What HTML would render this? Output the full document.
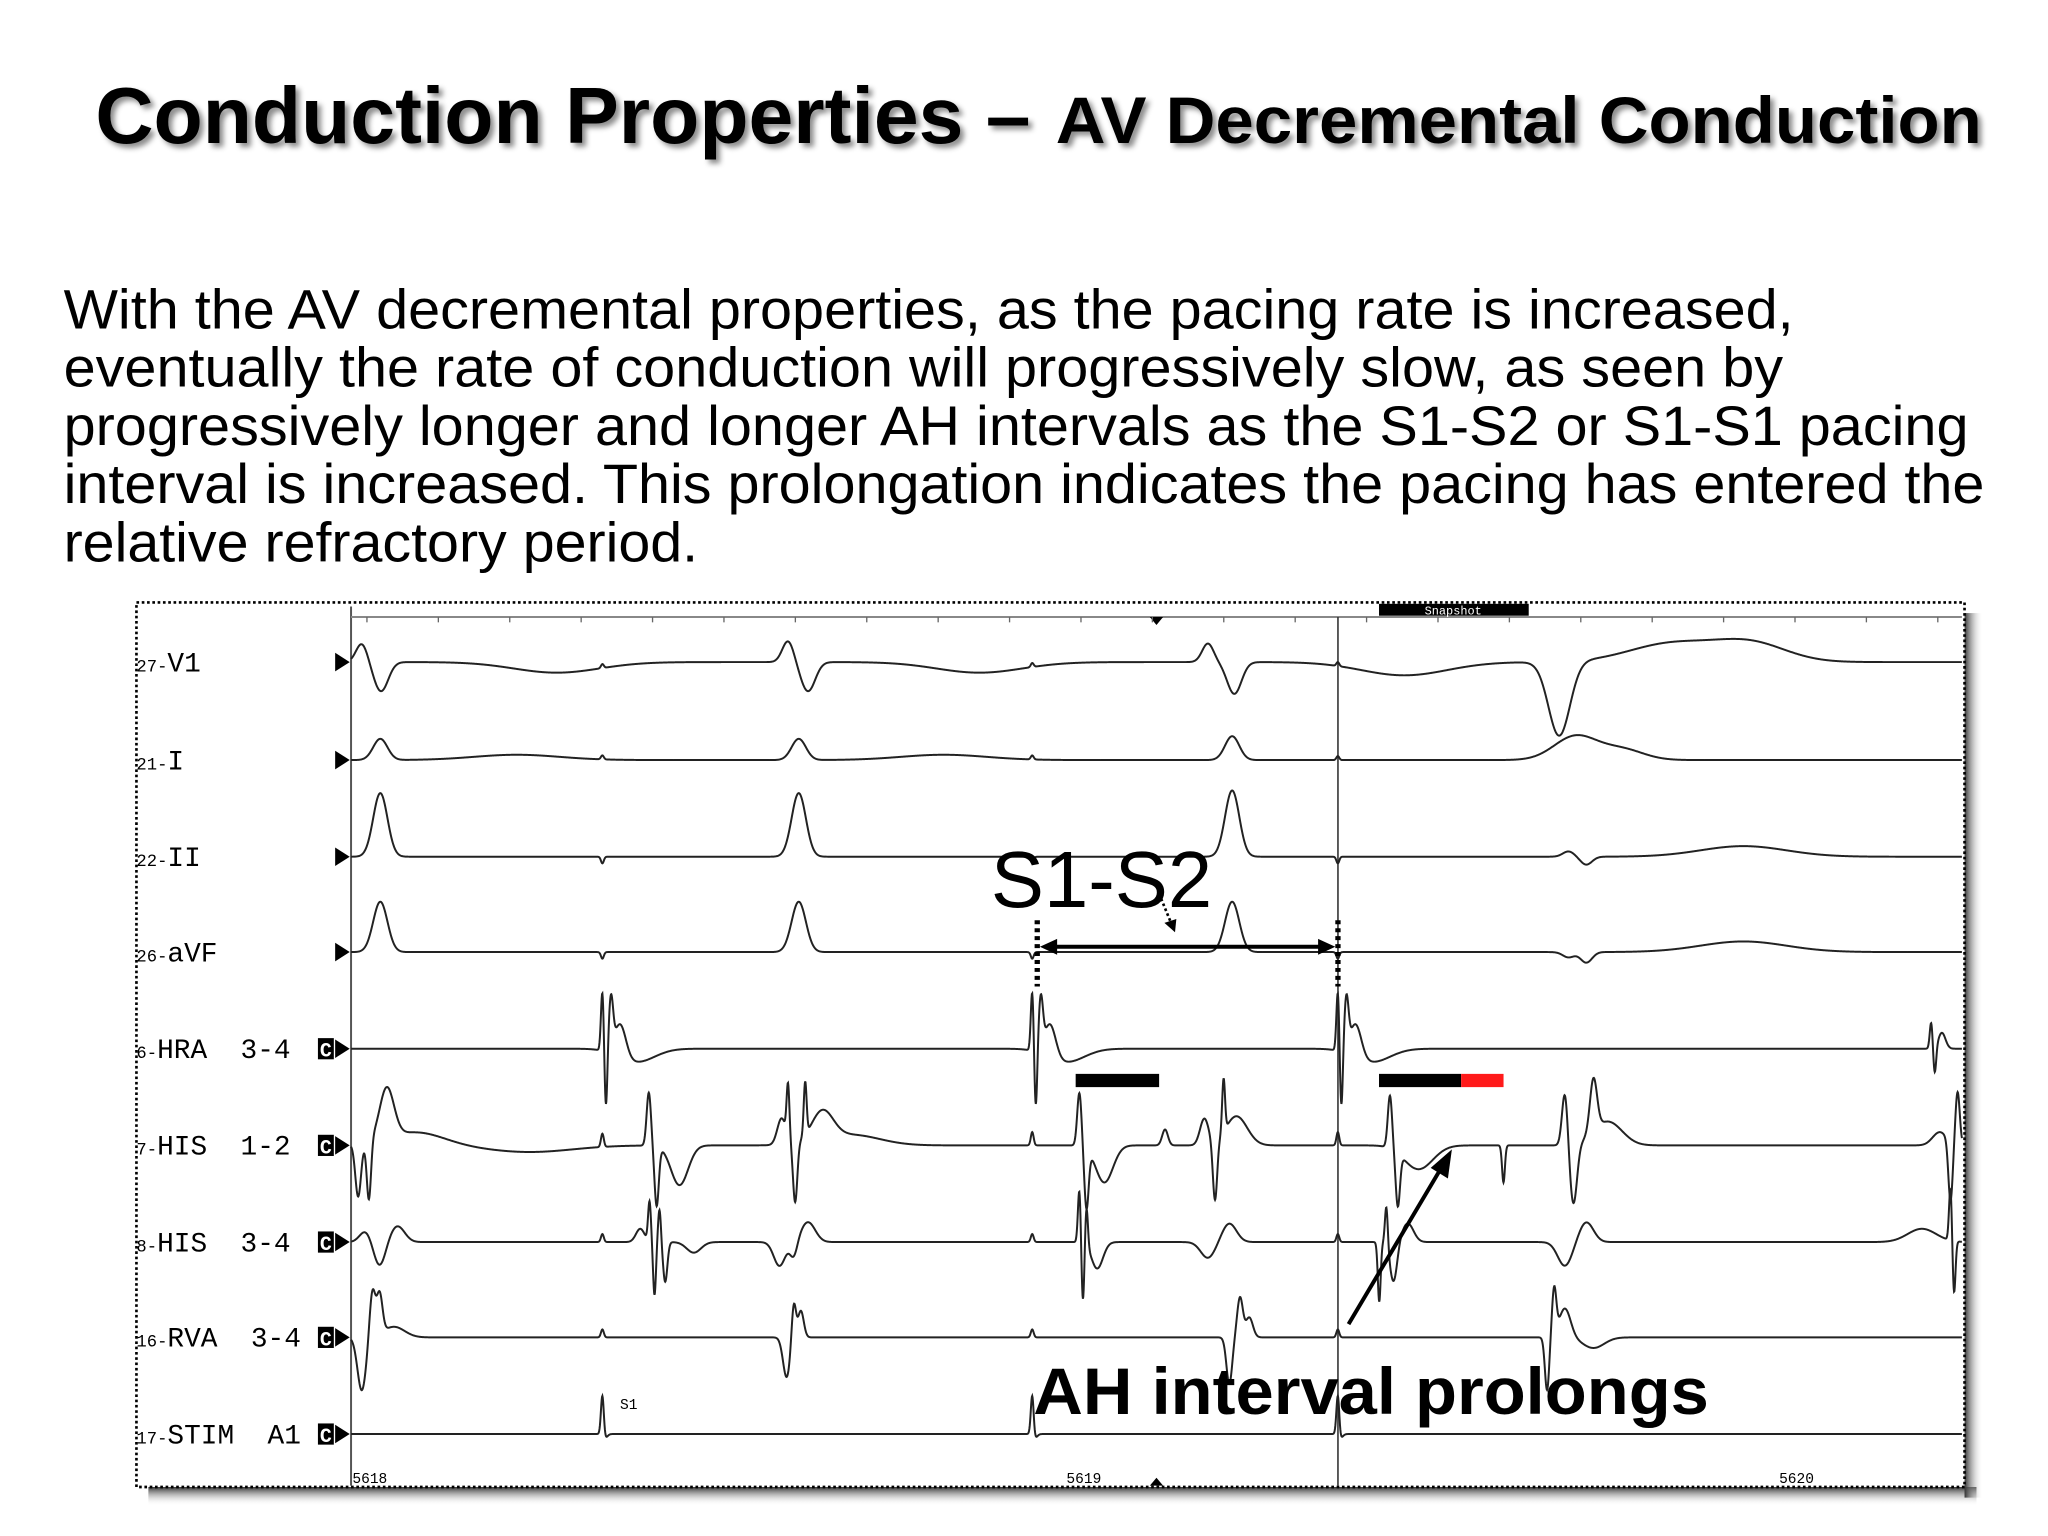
<!DOCTYPE html>
<html><head><meta charset="utf-8">
<style>
html,body{margin:0;padding:0;background:#fff;}
svg{display:block;}
</style></head>
<body>
<svg id="slide" width="2048" height="1536" viewBox="0 0 1546 1160" preserveAspectRatio="none" xmlns="http://www.w3.org/2000/svg">
<defs>
<filter id="ts" x="-5%" y="-20%" width="110%" height="150%"><feDropShadow dx="3" dy="3" stdDeviation="2" flood-color="#000" flood-opacity="0.45"/></filter>
<linearGradient id="shB" x1="0" y1="0" x2="0" y2="1"><stop offset="0" stop-color="#333"/><stop offset="1" stop-color="#fff" stop-opacity="0"/></linearGradient>
<linearGradient id="shR" x1="0" y1="0" x2="1" y2="0"><stop offset="0" stop-color="#333"/><stop offset="1" stop-color="#fff" stop-opacity="0"/></linearGradient>
</defs>
<g filter="url(#ts)" font-family="Liberation Sans, sans-serif" font-weight="bold" fill="#000">
<text x="72" y="108" font-size="60" textLength="706" lengthAdjust="spacingAndGlyphs">Conduction Properties –</text>
<text x="797" y="108" font-size="50" textLength="699" lengthAdjust="spacingAndGlyphs">AV Decremental Conduction</text>
</g>
<g font-family="Liberation Sans, sans-serif" font-size="42" fill="#000">
<text x="48" y="248" textLength="1306" lengthAdjust="spacingAndGlyphs">With the AV decremental properties, as the pacing rate is increased,</text>
<text x="48" y="292" textLength="1298" lengthAdjust="spacingAndGlyphs">eventually the rate of conduction will progressively slow, as seen by</text>
<text x="48" y="336" textLength="1438" lengthAdjust="spacingAndGlyphs">progressively longer and longer AH intervals as the S1-S2 or S1-S1 pacing</text>
<text x="48" y="380" textLength="1450" lengthAdjust="spacingAndGlyphs">interval is increased. This prolongation indicates the pacing has entered the</text>
<text x="48" y="424" textLength="479" lengthAdjust="spacingAndGlyphs">relative refractory period.</text>
</g>
<g>
<rect x="112" y="1123" width="1380" height="14" fill="url(#shB)"/>
<rect x="1483" y="463" width="14" height="668" fill="url(#shR)"/>
<rect x="103" y="455" width="1380" height="668" fill="#fff" stroke="#000" stroke-width="2" stroke-dasharray="2,2"/>
<line x1="265" y1="458" x2="265" y2="1122" stroke="#555" stroke-width="1.5"/>
<line x1="265" y1="466" x2="1481" y2="466" stroke="#888" stroke-width="1.5"/>
<line x1="1010" y1="466" x2="1010" y2="1122" stroke="#333" stroke-width="1.2"/>
<rect x="1041" y="456" width="113" height="9" fill="#000"/>
<text x="1097" y="464" font-family="Liberation Mono, monospace" font-size="9" fill="#fff" text-anchor="middle">Snapshot</text>
<polygon points="868,466 878,466 873,472" fill="#000"/>
<polygon points="868,1122 878,1122 873,1116" fill="#000"/>
<text x="266" y="1120" font-family="Liberation Mono, monospace" font-size="11" fill="#000">5618</text>
<text x="805" y="1120" font-family="Liberation Mono, monospace" font-size="11" fill="#000">5619</text>
<text x="1343" y="1120" font-family="Liberation Mono, monospace" font-size="11" fill="#000">5620</text>
<text x="468" y="1064" font-family="Liberation Mono, monospace" font-size="11" fill="#000">S1</text>
</g>
<g id="ticks"></g>
<g id="labels"></g>
<g id="traces" fill="none" stroke="#222" stroke-width="1.5"></g>
<g>
<text x="748" y="685" font-family="Liberation Sans, sans-serif" font-size="60" fill="#000" textLength="167" lengthAdjust="spacingAndGlyphs">S1-S2</text>
<line x1="783" y1="695" x2="783" y2="745" stroke="#000" stroke-width="4" stroke-dasharray="3,3"/>
<line x1="1010" y1="695" x2="1010" y2="745" stroke="#000" stroke-width="4" stroke-dasharray="3,3"/>
<line x1="795" y1="715" x2="998" y2="715" stroke="#000" stroke-width="3"/>
<polygon points="785,715 798,709 798,721" fill="#000"/>
<polygon points="1008,715 995,709 995,721" fill="#000"/>
<line x1="875" y1="675" x2="884" y2="697" stroke="#000" stroke-width="2" stroke-dasharray="2,2"/>
<polygon points="887,704 879,697 888,694" fill="#000"/>
<rect x="812" y="811" width="63" height="10" fill="#000"/>
<rect x="1041" y="811" width="62" height="10" fill="#000"/>
<rect x="1103" y="811" width="32" height="10" fill="#ff1a1a"/>
<line x1="1018" y1="1000" x2="1088" y2="882" stroke="#000" stroke-width="3"/>
<polygon points="1096,868 1093,890 1080,882" fill="#000"/>
<text x="780" y="1068" font-family="Liberation Sans, sans-serif" font-weight="bold" font-size="50" fill="#000" textLength="510" lengthAdjust="spacingAndGlyphs">AH interval prolongs</text>
</g>
<script>
// channel names and baselines
var channelLabels = ["27-V1","21-I","22-II","26-aVF","6-HRA  3-4","7-HIS  1-2","8-HIS  3-4","16-RVA  3-4","17-STIM  A1"];
var channelBaselines = [500,574,647,719,792,865,938,1010,1083];
var channelHasBox = [false,false,false,false,true,true,true,true,true];
// event data per channel: time (ms), amplitude (up positive), width (ms)
var v1T = [15,42,288,352,612,640,880,954,1200,1237,1382,1475,1692,1850,1960];
var v1A = [14,-22,-8,3,16,-22,-8,3,14,-24,3,-10,-56,14,14];
var v1W = [8,10,60,2,8,10,60,2,8,10,2,60,15,60,50];
var iT = [41,232,352,627,830,954,1234,1382,1715,1780];
var iA = [16,4,3,16,4,3,18,3,18,8];
var iW = [10,60,2,10,60,2,10,2,30,30];
var iiT = [41,352,627,954,1234,1382,1705,1730,1950];
var iiA = [48,-5,48,-5,50,-5,4,-6,8];
var iiW = [10,2,10,2,10,2,8,8,60];
var avfT = [41,352,627,954,1234,1382,1705,1730,1950];
var avfA = [38,-5,38,-5,38,-5,-4,-8,8];
var avfW = [10,2,10,2,10,2,8,8,60];
var hraT = [352,357,364,377,400,954,959,966,979,1002,1382,1387,1394,1407,1430,2213,2218,2228];
var hraA = [45,-45,38,25,-10,45,-45,38,25,-10,45,-45,38,25,-10,20,-20,12];
var hraW = [2,2,3,8,25,2,2,3,8,25,2,2,3,8,25,2,2,5];
var his12T = [10,25,50,90,250,352,417,428,460,603,612,622,636,660,700,954,1020,1030,1055,1140,1195,1210,1222,1240,1382,1455,1466,1495,1614,1700,1712,1740,1760,2225,2240,2250];
var his12A = [-40,-45,38,10,-5,10,40,-45,-30,20,40,-45,40,22,8,10,40,-45,-28,12,20,-45,40,22,10,40,-40,-18,-28,40,-45,40,18,10,-45,40];
var his12W = [4,3,10,40,60,2,3,3,12,6,2,3,2,15,40,2,3,3,12,4,6,3,2,15,2,3,3,20,2,4,5,5,20,10,3,3];
var his34T = [20,40,65,352,405,418,425,432,440,480,600,620,640,954,1020,1025,1030,1045,1200,1230,1382,1440,1450,1460,1480,1700,1730,2200,2240,2245];
var his34A = [8,-18,12,6,10,30,-40,25,-30,-8,-18,-12,15,6,40,-45,30,-20,-12,14,6,-45,30,-30,14,-18,15,10,40,-40];
var his34W = [8,8,10,2,6,2,2,2,3,10,8,5,10,2,2,2,2,8,10,10,2,2,2,5,8,10,10,20,2,2];
var rvaT = [15,30,40,60,352,610,620,630,954,1230,1245,1258,1382,1675,1685,1700,1740];
var rvaA = [-40,35,30,8,6,-30,28,20,6,-35,30,15,6,-40,35,22,-8];
var rvaW = [6,4,4,15,2,5,3,4,2,4,4,5,2,3,3,8,15];
var stimT = [352,356,954,958,1382,1386];
var stimA = [30,-3,30,-3,30,-3];
var stimW = [2,3,2,3,2,3];
var seriesT = [v1T,iT,iiT,avfT,hraT,his12T,his34T,rvaT,stimT];
var seriesA = [v1A,iA,iiA,avfA,hraA,his12A,his34A,rvaA,stimA];
var seriesW = [v1W,iW,iiW,avfW,hraW,his12W,his34W,rvaW,stimW];
var tickTimes = [0,100,200,300,400,500,600,700,800,900,1000,1100,1200,1300,1400,1500,1600,1700,1800,1900,2000,2100,2200];

var NS = "http://www.w3.org/2000/svg";
var X0 = 265, X1 = 1481, T_MAX = 2256;
function xScale(t){ return X0 + (t / T_MAX) * (X1 - X0); }
function yScale(base, a){ return base - a; }

var tg = document.getElementById('ticks');
tickTimes.forEach(function(t){
  var l = document.createElementNS(NS,'line');
  
  
  l.setAttribute('x1',xScale(t)+12); l.setAttribute('x2',xScale(t)+12);
  l.setAttribute('y1',466); l.setAttribute('y2',470);
  l.setAttribute('stroke','#666'); l.setAttribute('stroke-width','1');
  tg.appendChild(l);
});

var lg = document.getElementById('labels');
var trg = document.getElementById('traces');
channelLabels.forEach(function(name, i){
  var base = channelBaselines[i];
  var parts = name.split('-');
  var txt = document.createElementNS(NS,'text');
  
  
  txt.setAttribute('x',103); txt.setAttribute('y',base+7);
  txt.setAttribute('font-family','Liberation Mono, monospace');
  txt.setAttribute('fill','#000');
  txt.setAttribute('style','white-space:pre');
  var s1 = document.createElementNS(NS,'tspan');
  s1.setAttribute('font-size','13'); s1.textContent = parts[0]+'-';
  var s2 = document.createElementNS(NS,'tspan');
  s2.setAttribute('font-size','21');
  s2.textContent = parts.slice(1).join('-');
  txt.appendChild(s1); txt.appendChild(s2);
  lg.appendChild(txt);
  var tri = document.createElementNS(NS,'polygon');
  
  
  tri.setAttribute('points',(253)+','+(base-7)+' '+(264)+','+base+' '+(253)+','+(base+7));
  tri.setAttribute('fill','#000');
  lg.appendChild(tri);
  if (channelHasBox[i]) {
    var bx = document.createElementNS(NS,'rect');
    
    
    bx.setAttribute('x',240); bx.setAttribute('y',base-8);
    bx.setAttribute('width',12); bx.setAttribute('height',16);
    bx.setAttribute('fill','#000');
    lg.appendChild(bx);
    var c = document.createElementNS(NS,'text');
    c.setAttribute('x',241.5); c.setAttribute('y',base+6);
    c.setAttribute('font-family','Liberation Mono, monospace');
    c.setAttribute('font-size','15'); c.setAttribute('font-weight','bold');
    c.setAttribute('fill','#fff'); c.textContent='C';
    lg.appendChild(c);
  }
  var T = seriesT[i], A = seriesA[i], W = seriesW[i];
  var d = '';
  for (var t = 0; t <= T_MAX; t += 0.5) {
    var v = 0;
    for (var k = 0; k < T.length; k++) {
      var z = (t - T[k]) / W[k];
      if (Math.abs(z) < 6) v += A[k] * Math.exp(-0.5 * z * z);
    }
    d += (t === 0 ? 'M' : 'L') + xScale(t).toFixed(2) + ',' + yScale(base, v).toFixed(2);
  }
  var p = document.createElementNS(NS,'path');
  
  
  p.setAttribute('d', d);
  trg.appendChild(p);
});
</script>
</svg>
</body></html>
